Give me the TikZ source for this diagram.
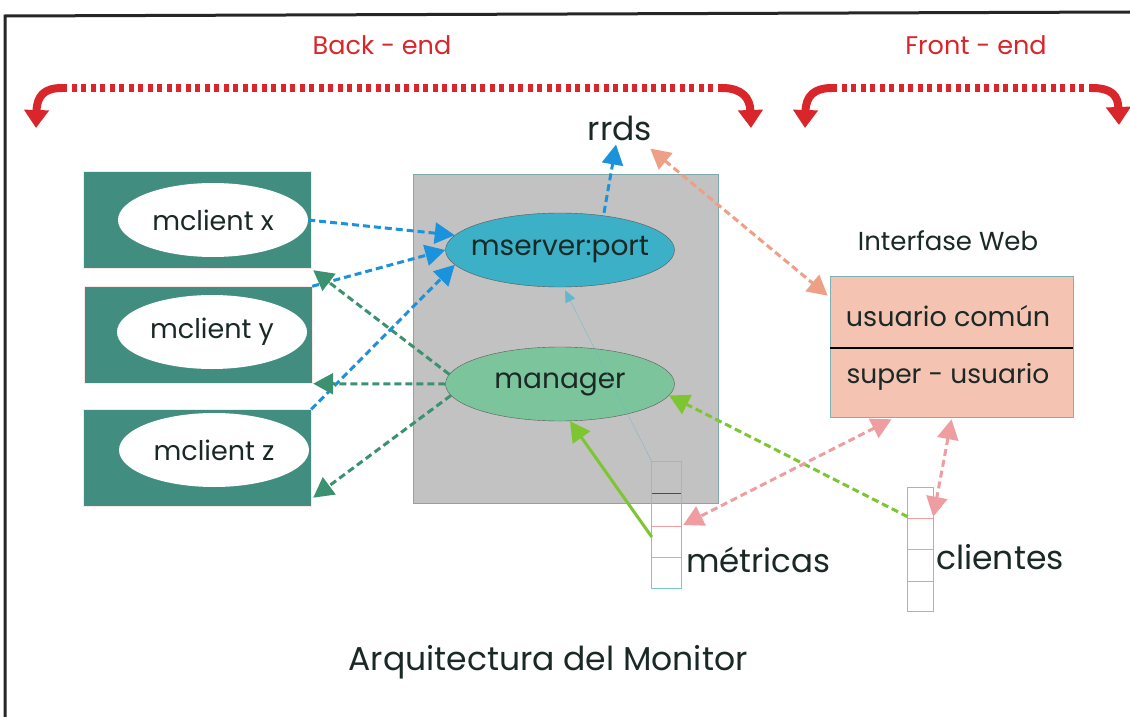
\documentclass[tikz,border=0pt]{standalone}
\usepackage{fontspec}
\setmainfont{Poppins}
\usetikzlibrary{arrows.meta,shapes.geometric}
\definecolor{tealbox}{RGB}{65,142,128}
\definecolor{graybox}{RGB}{194,194,194}
\definecolor{msfill}{RGB}{59,176,198}
\definecolor{mgfill}{RGB}{124,197,156}
\definecolor{salmon}{RGB}{245,195,177}
\definecolor{redarr}{RGB}{216,38,42}
\definecolor{bluearr}{RGB}{26,147,220}
\definecolor{darkgr}{RGB}{60,146,112}
\definecolor{lime}{RGB}{125,198,49}
\definecolor{pinkarr}{RGB}{238,158,160}
\definecolor{salarr}{RGB}{238,159,133}
\definecolor{txt}{RGB}{26,40,38}
\definecolor{cellc}{RGB}{124,200,200}
\begin{document}
\begin{tikzpicture}[x=1pt,y=-1pt,
  every node/.style={text=txt, inner sep=0pt},
  every label/.style={text=txt, inner sep=0pt},
  clientbox/.style={fill=tealbox, draw=pink!40, line width=0.4pt, minimum width=228pt, minimum height=97pt},
  cell/.style={ellipse, fill=white, minimum width=190pt, minimum height=74pt, label={[font=\fontsize{27}{27}\selectfont]center:#1}},
  srv/.style={ellipse, draw=gray!70!black, line width=0.4pt, minimum width=229pt, minimum height=74pt, label={[font=\fontsize{28}{28}\selectfont]center:#1}},
  dsh/.style={dash pattern=on 7pt off 4pt, line width=3pt},
  tip/.style={-{Triangle[length=20pt,width=21pt]}},
  dtip/.style={{Triangle[length=20pt,width=21pt]}-{Triangle[length=20pt,width=21pt]}},
  redtip/.style={-{Triangle[length=18pt,width=24pt]}},
  reddash/.style={draw=redarr, line width=8pt, dash pattern=on 5pt off 4.5pt},
  redc/.style={draw=redarr, line width=8pt},
  lbl/.style={font=\fontsize{25.5}{25.5}\selectfont, text=redarr}
]
\useasboundingbox (0,0) rectangle (1130,717);
\fill[white] (0,0) rectangle (1130,717);
% frame
\draw[line width=3pt, draw=black!85] (5,717) -- (5,16) -- (1130,12);

% headings
\node[lbl] (back) at (382,45) {Back - end};
\node[lbl] (front) at (976,45) {Front - end};

% red bracket arrows
\draw[reddash] (62,88) -- (722,88);
\draw[redc, redtip] (62,88) .. controls (44,88) and (37,96) .. (36,128);
\draw[redc, redtip] (722,88) .. controls (742,88) and (750,98) .. (751,128);
\draw[reddash] (832,88) -- (1092,88);
\draw[redc, redtip] (832,88) .. controls (814,88) and (806,96) .. (805,128);
\draw[redc, redtip] (1092,88) .. controls (1112,88) and (1118,96) .. (1119,125);

% client boxes
\node[clientbox] (bx) at (197,219.5) {};
\node[clientbox] (by) at (198,335) {};
\node[clientbox] (bz) at (197,458) {};
\node[cell={mclient x}] (cx) at (213,220) {};
\node[cell={mclient y}] (cy) at (212,332) {};
\node[cell={mclient z}] (cz) at (214,450) {};

% gray server box
\node[fill=graybox, draw=cellc!60!gray, line width=0.6pt, minimum width=305pt, minimum height=329pt] (gb) at (565.5,338.5) {};
\node[srv={mserver:port}, fill=msfill] (ms) at (560,250) {};
\node[srv={manager}, fill=mgfill] (mg) at (560,384) {};

% rrds
\node[font=\fontsize{33}{33}\selectfont] (rrds) at (620,128) {rrds};

% interface web
\node[font=\fontsize{26}{26}\selectfont] (iw) at (948,241) {Interfase Web};
\node[fill=salmon, draw=cellc!70!gray, line width=0.6pt, minimum width=243pt, minimum height=141pt] (ib) at (951.5,346.5) {};
\draw[line width=1.5pt, black] (ib.west) ++(0,1.5) coordinate (dl) -- (ib.east |- dl);
\node[font=\fontsize{27}{27}\selectfont] (uc) at (948,316) {usuario común};
\node[font=\fontsize{26.5}{26.5}\selectfont] (su) at (948,377) {super - usuario};

% metricas stack
\node[minimum width=29pt, minimum height=126pt] (mt) at (666.5,525) {};
\draw[cellc, line width=0.7pt] (mt.north west) rectangle (mt.south east);
\draw[gray!60!black, line width=0.8pt] (652,493) -- (681,493);
\draw[pinkarr, line width=0.8pt] (652,526) -- (681,526);
\draw[pinkarr, line width=0.8pt] (652,557) -- (681,557);
\node[anchor=west, font=\fontsize{32.5}{32.5}\selectfont] (mtl) at (686,560) {métricas};

% clientes stack
\node[minimum width=25pt, minimum height=123pt] (cl) at (920.5,549.5) {};
\draw[cellc, line width=0.7pt] (cl.north west) rectangle (cl.south east);
\draw[pinkarr, line width=0.8pt] (908,518) -- (933,518);
\draw[pinkarr, line width=0.8pt] (908,549) -- (933,549);
\draw[cellc, line width=0.8pt] (908,581) -- (933,581);
\node[anchor=west, font=\fontsize{33}{33}\selectfont] (cll) at (936,557) {clientes};

% blue arrows to mserver
\draw[bluearr, dsh, tip] (cx.east) -- (ms.172);
\draw[bluearr, dsh, tip] (by.north east) -- (ms.180);
\draw[bluearr, dsh, tip] (bz.north east) -- (ms.188);
\draw[bluearr, dsh, tip] ([xshift=44pt]ms.north) -- ([xshift=-4pt,yshift=-4pt]rrds.south);
% thin line metricas -> mserver
\draw[cellc!70!bluearr, line width=0.5pt, -{Triangle[length=12pt,width=11pt]}, draw opacity=0.6] (mt.north west) -- ([xshift=5pt,yshift=-3pt]ms.south);

% dark green arrows from manager
\draw[darkgr, dsh, tip] (mg.175) -- ([xshift=2pt,yshift=-2pt]bx.south east);
\draw[darkgr, dsh, tip] (mg.west) -- ([xshift=1pt]by.south east);
\draw[darkgr, dsh, tip] (mg.186) -- ([xshift=2pt,yshift=9pt]bz.south east);

% lime arrows
\draw[lime, line width=3pt, tip] ([yshift=-12pt]mt.west) -- ([xshift=10pt]mg.south);
\draw[lime, dsh, tip] ([yshift=-29pt]cl.north west) -- (mg.-6);

% pink / salmon double arrows
\draw[pinkarr, dsh, dtip] ([xshift=-60pt,yshift=-2pt]ib.south) -- ([xshift=2pt]mt.east);
\draw[pinkarr, dsh, dtip] ([yshift=-2pt]ib.south) -- ([yshift=-29pt]cl.north east);
\draw[salarr, dsh, dtip] ([xshift=-2pt,yshift=-8pt]rrds.south east) -- ([xshift=-2pt,yshift=-20pt]ib.north west);

% title
\node[font=\fontsize{33}{33}\selectfont] (title) at (548,662) {Arquitectura del Monitor};
\end{tikzpicture}
\end{document}
